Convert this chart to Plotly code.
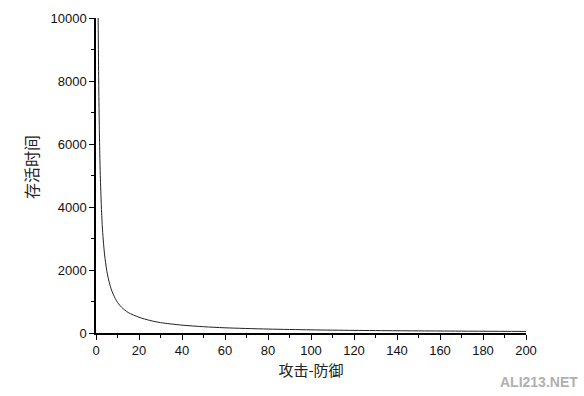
import plotly.graph_objects as go

# Values
attack_minus_defense = [1, 1.25, 1.5, 1.75, 2, 2.5, 3, 3.5, 4, 5, 6, 7, 8, 10, 12, 15, 20, 25, 30, 40,
                        50, 60, 80, 100, 120, 140, 160, 180, 200]
survival_time = [10000, 8000, 6700, 5700, 5000, 4000, 3300, 2850, 2480, 1980, 1650, 1410, 1230, 970,
                 810, 650, 500, 400, 330, 250, 200, 165, 125, 100, 83, 71, 63, 56, 50]

x_ticks = [0, 20, 40, 60, 80, 100, 120, 140, 160, 180, 200]
y_ticks = [0, 2000, 4000, 6000, 8000, 10000]

fig = go.Figure()
fig.add_trace(go.Scatter(
    x=attack_minus_defense, y=survival_time, mode="lines",
    line=dict(color="#222222", width=1, shape="spline", smoothing=0.8),
    hoverinfo="skip", showlegend=False,
))

tick_font = dict(family="Liberation Sans, Arial, sans-serif", size=13, color="#111111")
cjk = "Noto Sans CJK SC, sans-serif"

fig.update_layout(
    width=584, height=396,
    margin=dict(l=96, r=58, t=18, b=63),
    paper_bgcolor="white", plot_bgcolor="white",
    xaxis=dict(
        range=[0, 200], tickvals=x_ticks, ticktext=[str(v) for v in x_ticks],
        showgrid=False, zeroline=False, showline=True, linecolor="black", linewidth=1.5,
        ticks="outside", ticklen=5, tickwidth=1.2, tickcolor="black",
        minor=dict(ticks="outside", dtick=10, ticklen=3, tickwidth=1, tickcolor="black"),
        tickfont=tick_font,
        title=dict(text="攻击-防御", font=dict(family=cjk, size=15, color="#222222"), standoff=8),
    ),
    yaxis=dict(
        range=[0, 10000], tickvals=y_ticks, ticktext=[str(v) for v in y_ticks],
        showgrid=False, zeroline=False, showline=True, linecolor="black", linewidth=1.5,
        ticks="outside", ticklen=5, tickwidth=1.2, tickcolor="black",
        minor=dict(ticks="outside", dtick=1000, ticklen=3, tickwidth=1, tickcolor="black"),
        tickfont=tick_font,
    ),
    annotations=[
        dict(
            text="存活时间", xref="paper", yref="paper", x=-0.151, y=0.527,
            xanchor="center", yanchor="middle", showarrow=False, textangle=-90,
            font=dict(family=cjk, size=16, color="#222222"),
        ),
        dict(
            text="<b>ALI213.NET</b>", xref="paper", yref="paper", x=1.1256, y=-0.1556,
            xanchor="right", yanchor="middle", showarrow=False,
            font=dict(family="Liberation Sans, Arial, sans-serif", size=14, color="#b0b0b0"),
        ),
    ],
)

fig.write_html("out.html")
